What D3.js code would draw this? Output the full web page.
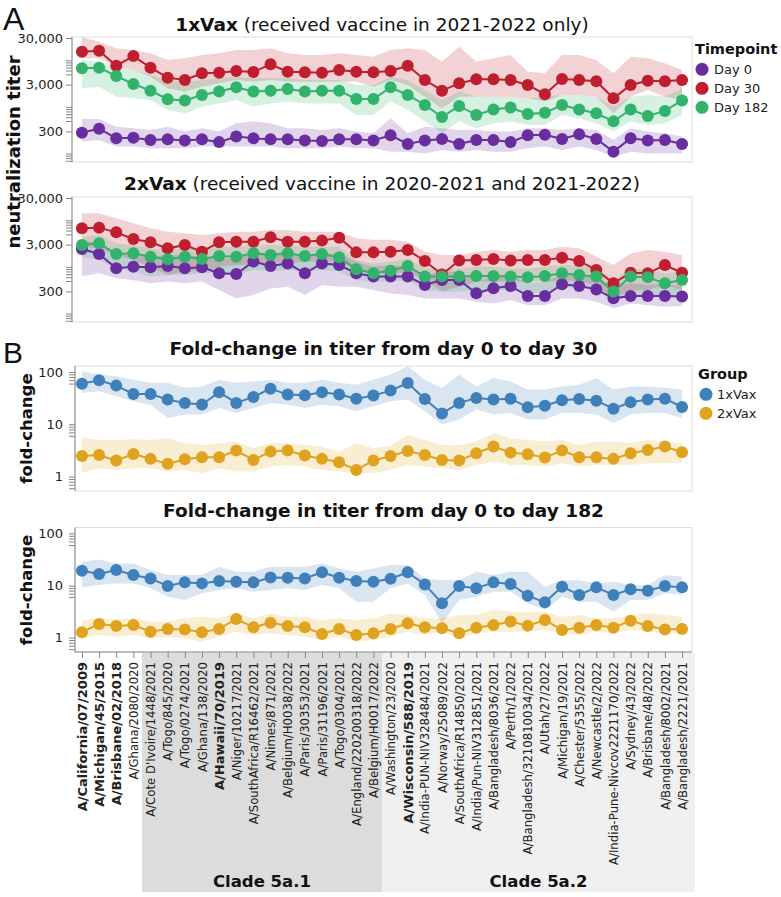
<!DOCTYPE html>
<html><head><meta charset="utf-8">
<script src="https://cdn.jsdelivr.net/npm/d3@7"></script>
<style>
body{margin:0;background:#fff}
svg{display:block;font-family:"DejaVu Sans",Verdana,sans-serif}
</style>
</head><body>
<svg id="c" width="781" height="897"></svg>
<script>
// ---------------- data ----------------
const strains = ["A/California/07/2009","A/Michigan/45/2015","A/Brisbane/02/2018","A/Ghana/2080/2020",
"A/Cote D'Ivoire/1448/2021","A/Togo/845/2020","A/Togo/0274/2021","A/Ghana/138/2020","A/Hawaii/70/2019",
"A/Niger/10217/2021","A/SouthAfrica/R16462/2021","A/Nimes/871/2021","A/Belgium/H0038/2022","A/Paris/30353/2021",
"A/Paris/31196/2021","A/Togo/0304/2021","A/England/220200318/2022","A/Belgium/H0017/2022","A/Washington/23/2020",
"A/Wisconsin/588/2019","A/India-PUN-NIV328484/2021","A/Norway/25089/2022","A/SouthAfrica/R14850/2021",
"A/India/Pun-NIV312851/2021","A/Bangladesh/8036/2021","A/Perth/1/2022","A/Bangladesh/3210810034/2021",
"A/Utah/27/2022","A/Michigan/19/2021","A/Chester/5355/2022","A/Newcastle/2/2022","A/India-Pune-Nivcov2221170/2022",
"A/Sydney/43/2022","A/Brisbane/48/2022","A/Bangladesh/8002/2021","A/Bangladesh/2221/2021"];
const boldStrains = ["A/California/07/2009","A/Michigan/45/2015","A/Brisbane/02/2018","A/Hawaii/70/2019","A/Wisconsin/588/2019"];
const clades = [
  {name:"Clade 5a.1", first:"A/Cote D'Ivoire/1448/2021", last:"A/Belgium/H0017/2022", fill:"#dcdcdc"},
  {name:"Clade 5a.2", first:"A/Washington/23/2020", last:"A/Bangladesh/2221/2021", fill:"#f0f0f0"}
];

// 1xVax titers
const v1_day0    = [281,342,212,219,196,202,190,202,176,231,212,202,202,190,187,202,202,190,246,161,190,206,161,196,196,176,246,254,206,258,206,110,212,190,196,161];
const v1_day0_hi = [548,548,378,350,320,378,296,350,296,445,490,445,350,350,320,350,296,272,570,272,378,350,320,320,296,296,350,350,320,350,320,196,350,296,272,231];
const v1_day0_lo = [182,196,141,141,130,130,130,141,141,141,141,141,130,130,130,141,130,130,110,110,101,119,110,119,110,110,130,141,119,141,119,86,110,101,101,101];
const v1_day30    = [15300,16000,7650,12300,6940,4240,3780,5250,5420,5880,5600,8200,5690,5530,5420,6200,5690,5530,5880,7650,3780,2230,3200,3900,3900,3780,2960,1870,3970,3780,3550,1530,2960,3650,3550,3780];
const v1_day30_hi = [31000,25000,18000,16600,14100,10100,11000,13000,14100,16600,16600,18000,14100,13000,13000,14100,13000,11900,16600,18000,16600,9300,19500,9300,11000,13000,5700,5250,13000,13000,10100,5250,11900,11000,8600,6200];
const v1_day30_lo = [11000,11000,7300,6200,4450,2500,2130,2720,3200,3780,3470,3780,3470,3470,3470,3470,3470,2720,3780,2960,1660,930,1660,1660,1660,1660,1530,1300,1800,1800,1660,730,1660,2300,1660,1410];
const v1_day182    = [6720,6940,4600,3100,2230,1460,1380,1800,2130,2630,2130,2230,2430,2130,2230,2230,1480,1480,2630,1800,1100,605,1050,670,880,970,705,750,1100,880,730,490,880,640,820,1380];
const v1_day182_hi = [10100,9300,7300,6200,4800,3780,3470,3780,4100,4450,4100,4100,4100,3780,3780,3780,2960,2960,4450,3780,2300,1410,2130,1660,1660,1660,1530,1660,1800,1800,1660,1010,1660,1800,1660,2500];
const v1_day182_lo = [2500,2720,1660,1530,1410,860,730,1010,1190,1410,1010,1190,1300,1190,1190,1190,670,670,1300,860,490,272,490,350,445,490,410,410,670,570,445,296,490,410,445,670];

// 2xVax titers
const v2_day0    = [2420,1890,935,1010,980,1050,935,980,730,705,1300,1050,1190,730,1190,1100,730,620,620,620,410,525,525,272,350,390,238,238,425,390,330,212,238,238,238,231];
const v2_day0_hi = [3800,3200,1800,1800,1650,1800,1800,1650,1520,1520,2120,1950,2120,1520,1950,1950,1290,1010,1100,1010,670,800,800,485,620,670,445,485,670,670,570,375,445,410,445,375];
const v2_day0_lo = [630,730,570,520,445,485,445,485,320,210,250,345,375,250,410,375,375,320,270,250,210,210,210,180,165,195,150,150,210,210,180,130,165,150,140,145];
const v2_day30    = [6720,6940,5510,3960,3370,2500,2950,2120,3370,3480,3480,4310,3480,3480,3660,4240,2050,2050,2120,2300,1340,690,1370,1410,1480,1370,1410,1410,1580,1340,860,445,750,730,1100,750];
const v2_day30_hi = [14100,14100,11000,8600,6700,5700,5250,4850,5250,5700,5700,6200,6200,5700,5700,5700,4100,3800,3800,3450,2120,1800,1800,2120,2300,2120,2300,2300,2700,2500,1660,1100,1950,2300,2120,1800];
const v2_day30_lo = [2700,2500,1800,1400,1010,670,800,800,1010,1100,1100,1290,1190,1290,1290,1290,860,730,670,800,520,300,375,485,485,485,485,485,520,485,410,210,320,320,410,320];
const v2_day182    = [2950,3200,1890,1960,1660,1460,1660,1480,1720,1660,1960,1800,1960,1720,1890,1610,890,730,830,1050,620,620,620,640,640,620,600,640,730,670,620,296,620,600,445,525];
const v2_day182_hi = [4450,4850,3200,2950,2500,2300,2500,2300,2700,2700,2950,2950,2950,2700,2700,2700,1400,1190,1290,1520,930,930,930,1010,1010,930,930,1010,1100,1100,930,520,930,860,730,800];
const v2_day182_lo = [1650,1400,930,800,620,670,670,730,730,670,860,800,860,800,860,800,520,485,485,520,320,295,295,320,320,320,270,295,345,375,320,180,250,250,230,250];

// fold-change day 0 -> day 30
const fc30_1x    = [59.8,69.3,54.8,38,38,29.6,25.6,23.8,40.9,25.6,33.3,48,36.9,35.8,40.9,36.9,30.9,35.3,44,61.6,30.5,16,25.6,31.9,29.6,30.9,21.1,22.7,28.7,30.5,28.3,19.9,26.3,29.6,30.9,21.4];
const fc30_1x_hi = [103,89,83,71,62,62,50,53,71,62,66,71,62,62,71,62,57,71,89,128,71,50,89,53,77,66,46,46,53,57,77,46,53,53,50,46];
const fc30_1x_lo = [39.7,42.7,34.3,27.5,23.7,13.2,15.3,15.3,20.5,16.5,20.5,25.5,23.7,20.5,23.7,22,17.7,22,27.5,29.6,17.7,9.9,12.3,19.1,15.3,16.5,12.3,12.3,16.5,16.5,15.3,10.6,15.3,16.5,16.5,13.2];
const fc30_2x    = [2.48,2.59,2.02,2.71,2.18,1.75,2.14,2.34,2.34,3.14,2.08,3.0,3.14,2.52,2.18,1.88,1.34,2.02,2.48,3.09,2.59,2.08,2.02,2.79,3.74,2.87,2.67,2.31,3.14,2.34,2.34,2.18,2.79,3.23,3.74,2.92];
const fc30_2x_hi = [5.65,5.02,5.02,5.17,5.02,5.4,4.33,4.03,4.33,4.66,3.48,4.33,4.33,4.03,3.74,3.0,4.33,3.48,3.9,6.25,5.02,4.03,4.03,4.66,6.73,5.4,5.02,4.66,5.02,4.03,4.66,4.66,4.33,5.02,4.66,4.33];
const fc30_2x_lo = [1.19,1.44,1.34,1.44,1.44,1.25,1.34,1.16,1.44,1.25,1.25,1.55,1.67,1.55,1.34,1.25,1.16,1.16,1.34,1.67,1.55,1.44,1.34,1.67,1.93,1.67,1.67,1.55,1.8,1.55,1.67,1.67,1.67,1.8,1.8,1.8];

// fold-change day 0 -> day 182
const fc182_1x    = [19.2,16.6,19.8,15.9,13.7,9.78,11.5,11.0,12.2,11.8,11.5,14.3,14.1,13.7,17.9,14.1,12.2,11.8,13.5,17.9,10.5,4.55,9.78,8.83,11.5,10.7,6.38,4.76,9.5,6.58,9.22,6.58,8.45,7.96,9.78,9.22];
const fc182_1x_hi = [28.6,31.7,26.6,26.6,19.8,15.9,15.9,15.9,23,18.4,18.4,23,23,23,26.6,21.3,18.4,21.3,24.7,24.7,13.7,12.7,12.7,18.4,15.9,18.4,18.4,9.5,12.7,12.7,11.0,11.8,10.2,10.2,15.9,14.8];
const fc182_1x_lo = [9.22,10.2,11.0,11.0,8.83,6.11,5.27,7.08,8.2,8.83,7.62,8.2,8.83,8.2,10.2,8.83,4.9,4.9,8.83,11.0,6.58,1.88,5.27,6.11,7.62,7.62,4.55,3.39,6.11,4.9,4.9,3.15,5.27,5.27,7.08,6.58];
const fc182_2x    = [1.27,1.83,1.67,1.75,1.30,1.47,1.44,1.27,1.47,2.28,1.58,1.94,1.67,1.58,1.18,1.47,1.12,1.21,1.47,1.88,1.58,1.51,1.21,1.55,1.75,2.03,1.70,2.18,1.40,1.55,1.75,1.55,2.12,1.67,1.44,1.47];
const fc182_2x_hi = [2.18,2.35,2.25,2.35,2.03,2.03,2.35,2.53,2.35,2.93,2.35,2.93,2.53,2.53,2.18,2.35,2.18,2.35,2.93,2.72,2.35,2.35,2.72,2.72,3.39,3.15,3.15,3.15,2.53,2.72,2.35,2.35,2.72,2.93,2.72,2.53];
const fc182_2x_lo = [0.97,1.125,1.045,1.125,0.97,1.045,0.97,0.84,1.045,1.30,1.125,1.21,1.125,1.045,0.90,1.045,0.84,0.90,1.045,1.30,1.125,1.30,0.97,1.21,1.30,1.30,1.30,1.40,1.21,1.125,1.30,1.21,1.40,1.30,1.21,1.21];

const timepoints = ["Day 0","Day 30","Day 182"];
const groups = ["1xVax","2xVax"];
const titerLabelTicks = [300,3000,30000];
const titerMinorTicks = [70,80,90,100,500,600,700,800,900,1000,5000,6000,7000,8000,9000,10000];
const foldLabelTicks = [1,10,100];
const foldMinorTicks = [0.6,0.7,0.8,0.9,6,7,8,9,60,70,80,90];

// ---------------- styles ----------------
const tpColor = d3.scaleOrdinal().domain(timepoints).range(["#6a2da0","#bf1e2e","#31b36b"]);
const grpColor = d3.scaleOrdinal().domain(groups).range(["#3f80bb","#e0a31f"]);

const svg = d3.select("#c");
const plotRight = 692;
const x = d3.scalePoint().domain(strains).range([72, 692]).padding(0.58);

// clade background bands (behind everything)
const step = x.step();
clades.forEach((c, k) => {
  const x0 = x(c.first) - step / 2;
  const x1 = k === clades.length - 1 ? plotRight + 3 : x(c.last) + step / 2;
  svg.append("rect").attr("x", x0).attr("y", 653).attr("width", x1 - x0).attr("height", 239).attr("fill", c.fill);
  svg.append("text").attr("x", (x0 + x1) / 2).attr("y", 887).attr("text-anchor", "middle")
    .attr("font-size", 16.5).attr("font-weight", "bold").attr("fill", "#111").text(c.name);
});

function panel(cfg) {
  const g = svg.append("g");
  const y = d3.scaleLog().domain(cfg.domain).range([cfg.bottom, cfg.top]);
  g.append("rect").attr("x", cfg.left).attr("y", cfg.top).attr("width", plotRight - cfg.left)
    .attr("height", cfg.bottom - cfg.top).attr("fill", "#fff").attr("stroke", "#ddd");
  // y axis
  const fmt = d3.format(",");
  const ax = d3.axisLeft(y).tickValues(cfg.labelTicks.concat(cfg.minorTicks)).tickSize(6).tickSizeOuter(0)
    .tickPadding(cfg.left - 6 - 63)
    .tickFormat(v => cfg.labelTicks.includes(v) ? fmt(v) : "");
  const ga = g.append("g").attr("transform", `translate(${cfg.left},0)`).call(ax);
  ga.select(".domain").attr("stroke", "#888").attr("d", `M0,${cfg.top}V${cfg.bottom}`);
  ga.selectAll(".tick line").attr("stroke", "#888");
  ga.selectAll(".tick text").attr("font-size", 13).attr("fill", "#222").attr("font-family", '"DejaVu Sans",Verdana,sans-serif');
  // title
  const t = g.append("text").attr("x", (cfg.left + plotRight) / 2).attr("y", cfg.titleY).attr("text-anchor", "middle")
    .attr("font-size", 18.5).attr("fill", "#111");
  t.append("tspan").attr("font-weight", "bold").text(cfg.titleBold);
  if (cfg.titleRest) t.append("tspan").text(cfg.titleRest);

  // bands
  cfg.series.forEach(s => {
    const area = d3.area().x((d, i) => x(strains[i])).y0((d, i) => y(s.lo[i])).y1((d, i) => y(s.hi[i]));
    g.append("path").datum(s.vals).attr("d", area).attr("fill", s.color).attr("opacity", 0.2);
  });
  // lines
  cfg.series.forEach(s => {
    const line = d3.line().x((d, i) => x(strains[i])).y(d => y(d));
    g.append("path").datum(s.vals).attr("d", line).attr("fill", "none").attr("stroke", s.color).attr("stroke-width", 2);
  });
  // points
  cfg.series.forEach(s => {
    g.append("g").selectAll("circle").data(s.vals).join("circle")
      .attr("cx", (d, i) => x(strains[i])).attr("cy", d => y(d)).attr("r", 6).attr("fill", s.color);
  });
  return {g, y};
}

const titerDomain = [66, 31500];
const foldDomain = [0.53, 130];

panel({top: 37, bottom: 162, left: 72, domain: titerDomain, labelTicks: titerLabelTicks, minorTicks: titerMinorTicks,
  titleY: 31, titleBold: "1xVax", titleRest: " (received vaccine in 2021-2022 only)",
  series: [
    {vals: v1_day0, lo: v1_day0_lo, hi: v1_day0_hi, color: tpColor("Day 0")},
    {vals: v1_day30, lo: v1_day30_lo, hi: v1_day30_hi, color: tpColor("Day 30")},
    {vals: v1_day182, lo: v1_day182_lo, hi: v1_day182_hi, color: tpColor("Day 182")}
  ]});

panel({top: 197, bottom: 322, left: 72, domain: titerDomain, labelTicks: titerLabelTicks, minorTicks: titerMinorTicks,
  titleY: 190, titleBold: "2xVax", titleRest: " (received vaccine in 2020-2021 and 2021-2022)",
  series: [
    {vals: v2_day0, lo: v2_day0_lo, hi: v2_day0_hi, color: tpColor("Day 0")},
    {vals: v2_day30, lo: v2_day30_lo, hi: v2_day30_hi, color: tpColor("Day 30")},
    {vals: v2_day182, lo: v2_day182_lo, hi: v2_day182_hi, color: tpColor("Day 182")}
  ]});

panel({top: 366, bottom: 491, left: 75, domain: foldDomain, labelTicks: foldLabelTicks, minorTicks: foldMinorTicks,
  titleY: 355, titleBold: "Fold-change in titer from day 0 to day 30",
  series: [
    {vals: fc30_1x, lo: fc30_1x_lo, hi: fc30_1x_hi, color: grpColor("1xVax")},
    {vals: fc30_2x, lo: fc30_2x_lo, hi: fc30_2x_hi, color: grpColor("2xVax")}
  ]});

panel({top: 527.5, bottom: 652, left: 75, domain: foldDomain, labelTicks: foldLabelTicks, minorTicks: foldMinorTicks,
  titleY: 517, titleBold: "Fold-change in titer from day 0 to day 182",
  series: [
    {vals: fc182_1x, lo: fc182_1x_lo, hi: fc182_1x_hi, color: grpColor("1xVax")},
    {vals: fc182_2x, lo: fc182_2x_lo, hi: fc182_2x_hi, color: grpColor("2xVax")}
  ]});

// x axis at the bottom
const xa = svg.append("g").attr("transform", "translate(0,652)")
  .call(d3.axisBottom(x).tickSize(6).tickSizeOuter(0));
xa.select(".domain").attr("stroke", "#888").attr("d", "M75,0H692");
xa.selectAll(".tick line").attr("stroke", "#888");
xa.selectAll(".tick text")
  .attr("transform", "rotate(-90)").attr("x", -10).attr("y", 0).attr("dy", "0.35em")
  .attr("text-anchor", "end").attr("fill", "#222")
  .attr("font-family", '"DejaVu Sans",Verdana,sans-serif')
  .attr("font-size", d => boldStrains.includes(d) ? 13 : 11.7)
  .attr("font-weight", d => boldStrains.includes(d) ? "bold" : "normal");

// axis titles
svg.append("text").attr("transform", "translate(20,152) rotate(-90)").attr("text-anchor", "middle")
  .attr("font-size", 18).attr("font-weight", "bold").attr("fill", "#111").text("neutralization titer");
[428.5, 590].forEach(cy => {
  svg.append("text").attr("transform", `translate(32,${cy}) rotate(-90)`).attr("text-anchor", "middle")
    .attr("font-size", 16.5).attr("font-weight", "bold").attr("fill", "#111").text("fold-change");
});

// panel letters
svg.append("text").attr("x", 3).attr("y", 30).attr("font-family", '"Liberation Sans",Arial,sans-serif')
  .attr("font-size", 32).attr("fill", "#111").text("A");
svg.append("text").attr("x", 3).attr("y", 363).attr("font-family", '"Liberation Sans",Arial,sans-serif')
  .attr("font-size", 30).attr("fill", "#111").text("B");

// legends
function legend(title, items, color, tx, ty, cx, lx, ys) {
  svg.append("text").attr("x", tx).attr("y", ty).attr("font-size", 14.5).attr("font-weight", "bold").attr("fill", "#111").text(title);
  items.forEach((it, i) => {
    svg.append("circle").attr("cx", cx).attr("cy", ys[i]).attr("r", 6.5).attr("fill", color(it));
    svg.append("text").attr("x", lx).attr("y", ys[i] + 4.5).attr("font-size", 13).attr("fill", "#222").text(it);
  });
}
legend("Timepoint", timepoints, tpColor, 695, 54, 702, 714, [69.3, 88.3, 107.3]);
legend("Group", groups, grpColor, 698, 379, 706, 717, [394.3, 413.3]);
</script>
</body></html>
